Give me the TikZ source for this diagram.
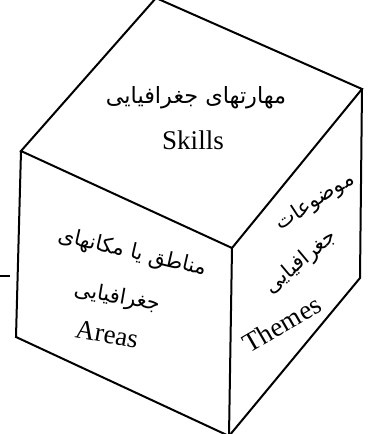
\documentclass[tikz,border=0pt]{standalone}
\usepackage{fontspec}
\setmainfont{Liberation Serif}
\newfontfamily\arabicfont[Script=Arabic]{DejaVu Sans}
\TeXXeTstate=1
\begin{document}
\begin{tikzpicture}[x=0.5pt,y=-0.5pt,
  edge/.style={line width=1pt, line join=miter},
  lat/.style={font=\fontsize{13.5}{16}\selectfont, inner sep=0pt},
  ar/.style={font=\arabicfont\fontsize{10.5}{13}\selectfont, inner sep=0pt},
  artop/.style={font=\arabicfont\fontsize{11.2}{13}\selectfont, inner sep=0pt}]
\useasboundingbox (0,0) rectangle (370,434);
\coordinate (T) at (156,-2);
\coordinate (L) at (21,151);
\coordinate (R) at (362,89);
\coordinate (C) at (232,248);
\coordinate (BL) at (16,337);
\coordinate (B) at (229,436);
\coordinate (BR) at (360,278);
\draw[edge] (L) -- (T) -- (R) -- (C) -- cycle;
\draw[edge] (L) -- (BL) -- (B) -- (C);
\draw[edge] (R) -- (BR) -- (B);
\coordinate (m1) at (0,276);
\coordinate (m2) at (10,276);
\draw[edge] (m1) -- (m2);
\node[artop] (sk1) at (196,98) {\beginR مهارتهای جغرافیایی\endR};
\node[lat] (sk2) at (193,140) {Skills};
\node[ar, rotate=-13] (a1) at (132,253) {\beginR مناطق یا مکانهای\endR};
\node[ar, rotate=-10] (a2) at (117,298) {\beginR جغرافیایی\endR};
\node[lat, rotate=-10] (a3) at (107,334) {Areas};
\node[ar, rotate=33] (t1) at (315,202) {\beginR موضوعات\endR};
\node[ar, rotate=40] (t2) at (301,262) {\beginR جغرافیایی\endR};
\node[lat, rotate=30] (t3) at (282,324) {Themes};
\end{tikzpicture}
\end{document}
